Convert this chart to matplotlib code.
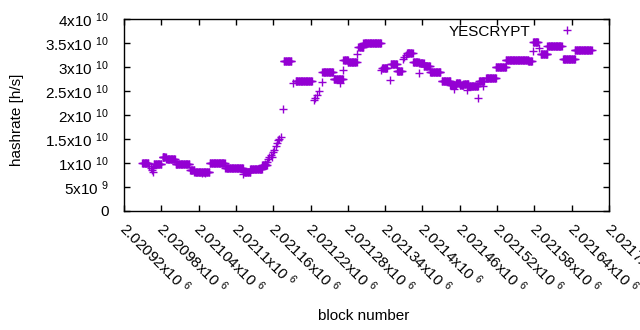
import numpy as np
import matplotlib
matplotlib.use("Agg")
import matplotlib.pyplot as plt
import matplotlib.transforms as mtransforms
from matplotlib.ticker import FixedLocator, FuncFormatter, NullFormatter

plt.rcParams['font.family'] = ['Liberation Sans', 'DejaVu Sans']
plt.rcParams['mathtext.fontset'] = 'custom'
plt.rcParams['mathtext.rm'] = 'Liberation Sans'
plt.rcParams['mathtext.it'] = 'Liberation Sans'
plt.rcParams['mathtext.default'] = 'regular'

# constant-rate runs of blocks: first block, last block, hashrate (x1e10 h/s)
seg_start = [2020949, 2020968, 2020982, 2020988, 2021003, 2021026, 2021033, 2021058,
             2021083, 2021113, 2021123, 2021142, 2021177, 2021196, 2021239, 2021257,
             2021273, 2021280, 2021297, 2021305, 2021335, 2021349, 2021359, 2021375,
             2021385, 2021395, 2021402, 2021412, 2021431, 2021445, 2021454, 2021460,
             2021466, 2021474, 2021491, 2021502, 2021518, 2021534, 2021570, 2021578,
             2021590, 2021601, 2021626, 2021645]
seg_end = [2020959, 2020980, 2020987, 2021002, 2021025, 2021033, 2021057, 2021082,
           2021111, 2021123, 2021142, 2021150, 2021189, 2021222, 2021256, 2021272,
           2021280, 2021294, 2021305, 2021333, 2021343, 2021359, 2021367, 2021384,
           2021394, 2021402, 2021412, 2021429, 2021445, 2021454, 2021460, 2021466,
           2021474, 2021489, 2021499, 2021518, 2021534, 2021570, 2021576, 2021586,
           2021601, 2021624, 2021645, 2021672]
seg_rate = [1.00, 0.97, 1.13, 1.08, 0.97, 0.86, 0.81, 1.00,
            0.89, 0.82, 0.875, 0.95, 3.12, 2.70, 2.89, 2.76,
            3.14, 3.11, 3.42, 3.49, 2.97, 3.06, 2.91, 3.29,
            3.10, 3.08, 3.03, 2.89, 2.70, 2.63, 2.67, 2.63,
            2.64, 2.60, 2.71, 2.78, 2.99, 3.14, 3.12, 3.53,
            3.28, 3.43, 3.16, 3.36]

# single blocks off the runs
pt_block = [2020961, 2020963, 2020965, 2020966, 2020967, 2020982, 2021045, 2021050,
            2021112, 2021147, 2021150, 2021152, 2021154, 2021156, 2021158, 2021160,
            2021162, 2021164, 2021166, 2021168, 2021170, 2021172, 2021175, 2021192,
            2021225, 2021227, 2021231, 2021234, 2021238, 2021267, 2021272, 2021295,
            2021334, 2021347, 2021368, 2021371, 2021374, 2021395, 2021450, 2021471,
            2021490, 2021498, 2021577, 2021587]
pt_rate = [0.93, 0.89, 0.85, 0.82, 0.90, 1.12, 0.79, 0.79,
           0.78, 0.98, 1.03, 1.08, 1.13, 1.17, 1.12, 1.22,
           1.28, 1.35, 1.42, 1.47, 1.51, 1.55, 2.12, 2.66,
           2.31, 2.36, 2.42, 2.49, 2.68, 2.66, 2.94, 3.28,
           2.94, 2.73, 3.16, 3.20, 3.25, 2.88, 2.54, 2.52,
           2.35, 2.61, 3.33, 3.40]

x_ticks = np.arange(2020920, 2021701, 60)
y_ticks = np.arange(0, 4.01e10, 0.5e10)


def build_series():
    blocks = []
    rates = []
    for s, e, r in zip(seg_start, seg_end, seg_rate):
        for b in range(s, e + 1):
            blocks.append(b)
            rates.append(r * 1e10)
    for b, r in zip(pt_block, pt_rate):
        blocks.append(b)
        rates.append(r * 1e10)
    return np.array(blocks), np.array(rates)


def x_label(v):
    return "%gx10 $^{6}$" % (v / 1e6)


def y_fmt(v, pos):
    if v == 0:
        return "0"
    exp = int(np.floor(np.log10(v)))
    return "%gx10 $^{%d}$" % (v / 10 ** exp, exp)


def main():
    blocks, rates = build_series()

    fig = plt.figure(figsize=(6.4, 3.3), dpi=100)
    ax = fig.add_axes([124 / 640, 1 - 211 / 330, 485 / 640, 192 / 330])

    ax.plot(blocks, rates, linestyle='none', marker='+', markersize=6,
            markeredgewidth=1, color='#9400d3', label='YESCRYPT')

    ax.set_xlim(2020920, 2021700)
    ax.set_ylim(0, 4e10)
    ax.xaxis.set_major_locator(FixedLocator(x_ticks))
    ax.yaxis.set_major_locator(FixedLocator(y_ticks))
    ax.xaxis.set_major_formatter(NullFormatter())
    ax.yaxis.set_major_formatter(FuncFormatter(y_fmt))

    ax.tick_params(direction='in', length=4, width=1, top=True, right=True,
                   labelsize=11, colors='black')
    ax.tick_params(axis='y', pad=11)
    for sp in ax.spines.values():
        sp.set_linewidth(1)
        sp.set_color('black')

    # rotated x tick labels, gnuplot style (start at the tick, run down-right)
    off = mtransforms.ScaledTranslation(5 / 100, -8 / 100, fig.dpi_scale_trans)
    for xt in x_ticks:
        ax.text(xt, 0, x_label(xt), transform=ax.get_xaxis_transform() + off,
                rotation=-45, rotation_mode='anchor', ha='left', va='top',
                fontsize=11, clip_on=False)

    ax.legend(loc='upper right', bbox_to_anchor=((590 - 124) / 485, 0.97),
              frameon=False, markerfirst=False, numpoints=1, fontsize=11,
              handlelength=3, handletextpad=0.9, borderpad=0, borderaxespad=0)

    fig.text(363.5 / 640, 1 - 316 / 330, 'block number', ha='center', va='center',
             fontsize=11)
    fig.text(17 / 640, 1 - 120 / 330, 'hashrate [h/s]', ha='center', va='center',
             rotation=90, fontsize=11)

    fig.savefig('out.png', dpi=100)


if __name__ == "__main__":
    main()
